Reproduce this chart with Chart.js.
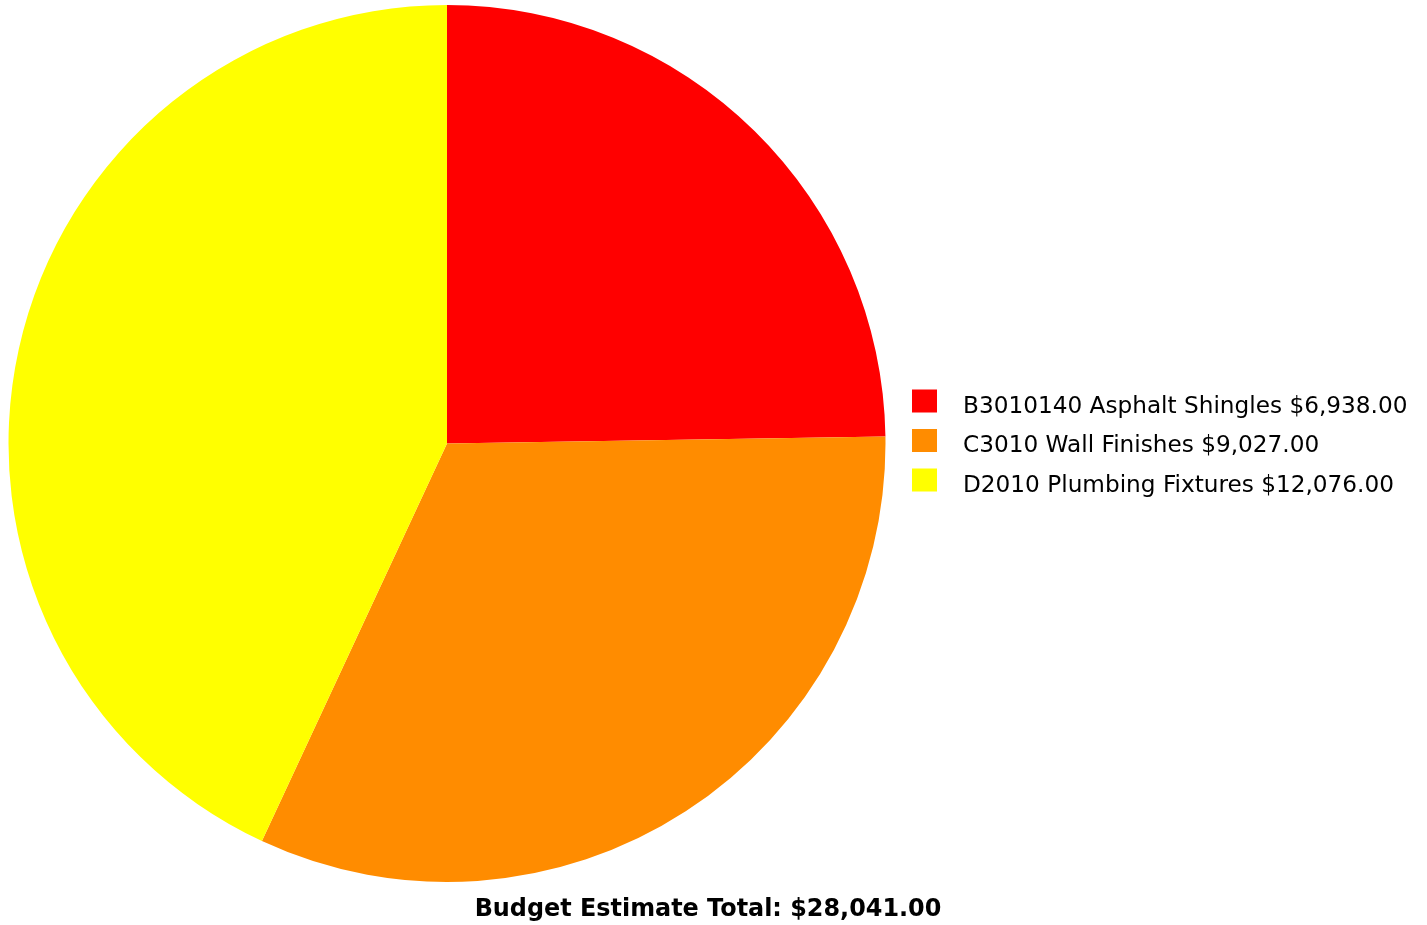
<!DOCTYPE html>
<html><head><meta charset="utf-8">
<script src="https://cdn.jsdelivr.net/npm/chart.js@4.4.1/dist/chart.umd.min.js"></script>
<style>html,body{margin:0;padding:0;background:#fff;}#wrap{width:1427px;height:925px;position:relative;}</style>
</head><body><div id="wrap"><canvas id="c"></canvas></div>
<script>
const categories = ["B3010140 Asphalt Shingles", "C3010 Wall Finishes", "D2010 Plumbing Fixtures"];
const values = [6938, 9027, 12076];
const colors = ["#FF0000", "#FF8C00", "#FFFF00"];
const titleText = "Budget Estimate Total: $28,041.00";
const FONT = "'DejaVu Sans', Tahoma, sans-serif";
const fmt = v => "$" + v.toLocaleString("en-US", {minimumFractionDigits: 2, maximumFractionDigits: 2});

const legendPlugin = {
  id: "sideLegend",
  afterDraw(chart) {
    const ctx = chart.ctx;
    const ds = chart.data.datasets[0];
    ctx.save();
    ctx.font = "23.2px " + FONT;
    ctx.textBaseline = "middle";
    chart.data.labels.forEach((lab, i) => {
      const y = 401 + i * 39.5;
      ctx.fillStyle = ds.backgroundColor[i];
      ctx.fillRect(912, y - 11.5, 25, 23);
      ctx.fillStyle = "#000";
      ctx.fillText(lab + " " + fmt(ds.data[i]), 963, y + 5.5);
    });
    ctx.font = "bold 23.9px " + FONT;
    ctx.textAlign = "center";
    ctx.fillStyle = "#000";
    ctx.fillText(chart.options.plugins.title.text, 708, 910);
    ctx.restore();
  }
};

new Chart(document.getElementById("c"), {
  type: "pie",
  data: { labels: categories, datasets: [{ data: values, backgroundColor: colors, borderWidth: 0 }] },
  options: {
    responsive: true, maintainAspectRatio: false, animation: false,
    layout: { padding: { left: 8, right: 541, top: 5, bottom: 43 } },
    plugins: {
      legend: { display: false },
      tooltip: { enabled: false },
      title: { display: false, text: titleText }
    }
  },
  plugins: [legendPlugin]
});
</script></body></html>
